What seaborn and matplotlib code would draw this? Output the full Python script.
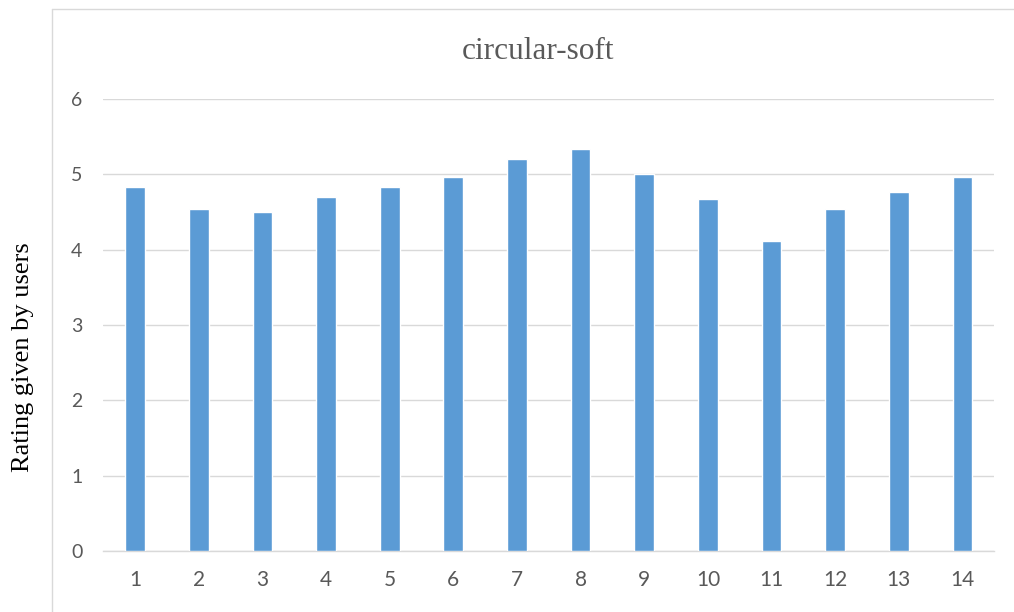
import matplotlib
matplotlib.use("Agg")
import matplotlib.pyplot as plt
from matplotlib.lines import Line2D
import seaborn as sns
import pandas as pd

# data
users = ["1", "2", "3", "4", "5", "6", "7", "8", "9", "10", "11", "12", "13", "14"]
ratings = [4.83, 4.54, 4.50, 4.70, 4.83, 4.96, 5.21, 5.33, 5.00, 4.67, 4.12, 4.54, 4.77, 4.96]
y_ticks = [0, 1, 2, 3, 4, 5, 6]

df = pd.DataFrame({"user": users, "rating": ratings})

sns.set_style("white")
plt.rcParams['font.family'] = ['Lato', 'DejaVu Sans']

W, H = 1014, 612
fig = plt.figure(figsize=(W / 100, H / 100), dpi=100)
ax = fig.add_axes([103.3 / W, (H - 551) / H, 891 / W, 452 / H])

sns.barplot(data=df, x="user", y="rating", color="#5B9BD5", width=0.31,
            saturation=1, ax=ax, zorder=3)

ax.set_ylim(0, 6)
ax.set_yticks(y_ticks)
ax.set_xlim(-0.5, len(users) - 0.5)
ax.yaxis.grid(True, color="#D9D9D9", linewidth=1.0, zorder=0)
ax.set_axisbelow(True)
for side in ["left", "right", "top"]:
    ax.spines[side].set_visible(False)
ax.spines["bottom"].set_color("#D9D9D9")
ax.spines["bottom"].set_linewidth(1.0)
ax.tick_params(axis="y", length=0, pad=15, labelsize=14, labelcolor="#595959")
ax.tick_params(axis="x", length=0, pad=14, labelsize=15, labelcolor="#595959")
ax.set_xlabel("")
ax.set_ylabel("")

# chart border (top and left edges visible)
fig.add_artist(Line2D([52 / W, 52 / W], [0, 1 - 9 / H], color="#D9D9D9", linewidth=1.0))
fig.add_artist(Line2D([52 / W, 1], [1 - 9 / H, 1 - 9 / H], color="#D9D9D9", linewidth=1.0))

fig.text(538 / W, 1 - 59.3 / H, "circular-soft", ha="center", va="baseline",
         fontsize=22.5, color="#595959", family=["Liberation Serif", "DejaVu Serif"])
fig.text(23 / W, 1 - 356.7 / H, "Rating given by users", ha="center", va="center",
         rotation=90, fontsize=19, color="black", family=["Liberation Serif", "DejaVu Serif"])

fig.savefig("out.png", dpi=100)
